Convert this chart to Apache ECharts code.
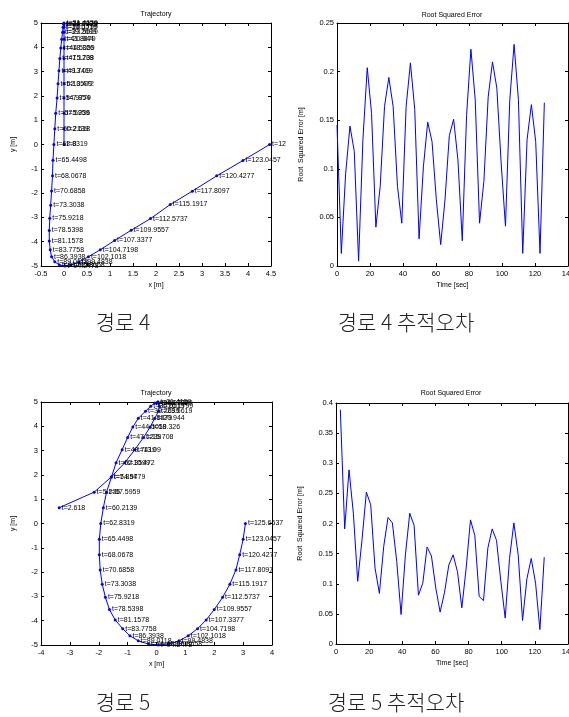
<!DOCTYPE html>
<html>
<head>
<meta charset="utf-8">
<script src="https://cdn.jsdelivr.net/npm/echarts@6/dist/echarts.min.js"></script>
<style>
  html, body { margin: 0; padding: 0; background: #fff; }
  #chart { width: 569px; height: 717px; }
</style>
</head>
<body>
<div id="chart"></div>
<script>
// sample times (every 2.618 s)
const tVals = [0, 2.618, 5.236, 7.854, 10.472, 13.09, 15.708, 18.326, 20.944, 23.5619,
  26.1799, 28.7979, 31.4159, 34.0339, 36.6519, 39.2699, 41.8879, 44.5059, 47.1239, 49.7419,
  52.3599, 54.9779, 57.5959, 60.2139, 62.8319, 65.4498, 68.0678, 70.6858, 73.3038, 75.9218,
  78.5398, 81.1578, 83.7758, 86.3938, 89.0118, 91.6298, 94.2478, 96.8658, 99.4838, 102.1018,
  104.7198, 107.3377, 109.9557, 112.5737, 115.1917, 117.8097, 120.4277, 123.0457, 125.6637];

// path 4 trajectory (t = 0 .. 125.66)
const path4X = [0, 0, 0, 0, 0, 0, 0, 0, 0, 0, 0, 0, 0,
  -0.01, -0.02, -0.03, -0.05, -0.07, -0.09, -0.11, -0.13, -0.15, -0.18, -0.20, -0.22,
  -0.24, -0.25, -0.27, -0.29, -0.31, -0.32, -0.32, -0.30, -0.27, -0.20, -0.10, 0.02,
  0.15, 0.32, 0.53, 0.79, 1.10, 1.46, 1.88, 2.31, 2.79, 3.32, 3.89, 4.47];
const path4Y = [0, 0.65, 1.29, 1.91, 2.5, 3.04, 3.54, 3.97, 4.33, 4.62, 4.83, 4.96, 5.0,
  4.96, 4.83, 4.62, 4.33, 3.97, 3.54, 3.04, 2.5, 1.91, 1.29, 0.65, 0,
  -0.65, -1.29, -1.91, -2.5, -3.04, -3.54, -3.97, -4.33, -4.62, -4.83, -4.96, -5.0,
  -4.96, -4.83, -4.62, -4.33, -3.95, -3.53, -3.05, -2.47, -1.92, -1.29, -0.66, 0];

// path 5 trajectory (t = 2.618 .. 125.66)
const path5X = [-3.37, -2.16, -1.57, -1.10, -0.75, -0.45, -0.22, -0.06, 0.07, 0.10, 0.08, 0.04,
  -0.06, -0.20, -0.38, -0.63, -0.82, -1.00, -1.19, -1.40, -1.56, -1.73, -1.84, -1.93,
  -1.98, -1.98, -1.95, -1.88, -1.77, -1.63, -1.43, -1.17, -0.92, -0.63, -0.28, 0.06,
  0.41, 0.78, 1.10, 1.42, 1.72, 2.00, 2.29, 2.54, 2.75, 2.88, 3.00, 3.08];
const path5Y = [0.65, 1.29, 1.91, 2.5, 3.04, 3.54, 3.97, 4.33, 4.62, 4.83, 4.96, 5.0,
  4.96, 4.83, 4.62, 4.33, 3.97, 3.54, 3.04, 2.5, 1.91, 1.29, 0.65, 0,
  -0.65, -1.29, -1.91, -2.5, -3.04, -3.54, -3.97, -4.33, -4.62, -4.83, -4.96, -5.0,
  -4.96, -4.83, -4.62, -4.33, -3.97, -3.54, -3.04, -2.5, -1.91, -1.29, -0.65, 0];

// root squared error [m]
const rse4 = [0.145, 0.013, 0.095, 0.144, 0.118, 0.005, 0.13, 0.204, 0.157, 0.04,
  0.082, 0.164, 0.194, 0.164, 0.082, 0.044, 0.164, 0.209, 0.161, 0.028,
  0.102, 0.148, 0.128, 0.068, 0.022, 0.068, 0.134, 0.151, 0.109, 0.026,
  0.155, 0.223, 0.171, 0.044, 0.087, 0.174, 0.210, 0.183, 0.106, 0.041,
  0.171, 0.228, 0.171, 0.013, 0.130, 0.166, 0.128, 0.013, 0.168];
const rse5 = [0.389, 0.191, 0.289, 0.217, 0.104, 0.173, 0.252, 0.231, 0.126, 0.084,
  0.162, 0.210, 0.201, 0.137, 0.049, 0.148, 0.217, 0.197, 0.081, 0.101,
  0.161, 0.146, 0.093, 0.053, 0.085, 0.131, 0.148, 0.120, 0.060, 0.126,
  0.206, 0.180, 0.079, 0.072, 0.159, 0.191, 0.172, 0.104, 0.043, 0.142,
  0.201, 0.148, 0.039, 0.108, 0.142, 0.101, 0.024, 0.144];

const captions = ['경로 4', '경로 4 추적오차', '경로 5', '경로 5 추적오차'];

const FONT = '"Liberation Sans", Arial, Helvetica, sans-serif';
const BLUE = '#0000ff';

const grids = [
  { left: 41, top: 23, width: 230, height: 243 },
  { left: 337, top: 23, width: 231, height: 243 },
  { left: 41, top: 402, width: 231, height: 243 },
  { left: 336, top: 403, width: 232, height: 241 }
];

function fmtT(t) {
  return 't=' + String(parseFloat(t.toFixed(4)));
}

const xAxes = [];
const yAxes = [];

function addAxes(g, xr, yr, xName, yName, yGap) {
  const base = {
    type: 'value', gridIndex: g, splitLine: { show: false },
    axisLine: { show: true, onZero: false, lineStyle: { color: '#000', width: 1 } },
    axisTick: { show: true, inside: true, length: 3, lineStyle: { color: '#000' } }
  };
  const lbl = { show: true, color: '#000', fontSize: 7.5, fontFamily: FONT };
  xAxes.push(Object.assign({}, base, {
    position: 'bottom', min: xr[0], max: xr[1], interval: xr[2],
    axisLabel: Object.assign({ margin: 4 }, lbl),
    name: xName, nameLocation: 'middle', nameGap: 16,
    nameTextStyle: { color: '#000', fontSize: 7, fontFamily: FONT }
  }));
  xAxes.push(Object.assign({}, base, {
    position: 'top', min: xr[0], max: xr[1], interval: xr[2], axisLabel: { show: false }
  }));
  yAxes.push(Object.assign({}, base, {
    position: 'left', min: yr[0], max: yr[1], interval: yr[2],
    axisLabel: Object.assign({ margin: 3 }, lbl),
    name: yName, nameLocation: 'middle', nameGap: yGap,
    nameTextStyle: { color: '#000', fontSize: 7, fontFamily: FONT }
  }));
  yAxes.push(Object.assign({}, base, {
    position: 'right', min: yr[0], max: yr[1], interval: yr[2], axisLabel: { show: false }
  }));
}

addAxes(0, [-0.5, 4.5, 0.5], [-5, 5, 1], 'x [m]', 'y [m]', 24);
addAxes(1, [0, 140, 20], [0, 0.25, 0.05], 'Time [sec]', 'Root  Squared Error [m]', 32);
addAxes(2, [-4, 4, 1], [-5, 5, 1], 'x [m]', 'y [m]', 24);
addAxes(3, [0, 140, 20], [0, 0.4, 0.05], 'Time [sec]', 'Root  Squared Error [m]', 32);

// clipLast: the last label runs off the figure edge in the original, keep only its start
function trajSeries(g, xs, ys, ts, clipLast) {
  const data = xs.map((x, i) => {
    const item = { value: [x, ys[i], ts[i]] };
    if (clipLast && i === xs.length - 1) {
      item.label = { width: 17, overflow: 'truncate', ellipsis: '' };
    }
    return item;
  });
  return {
    type: 'line', xAxisIndex: 2 * g, yAxisIndex: 2 * g, silent: true,
    data: data,
    symbol: 'circle', symbolSize: 3, showAllSymbol: true,
    lineStyle: { color: BLUE, width: 1 },
    itemStyle: { color: BLUE },
    label: {
      show: true, position: 'right', distance: 1,
      fontSize: 7, fontFamily: FONT, color: '#000',
      formatter: p => fmtT(p.value[2])
    },
    emphasis: { disabled: true }
  };
}

function rseSeries(g, ts, vals) {
  return {
    type: 'line', xAxisIndex: 2 * g, yAxisIndex: 2 * g, silent: true,
    data: vals.map((v, i) => [ts[i], v]),
    showSymbol: false,
    lineStyle: { color: BLUE, width: 1 },
    itemStyle: { color: BLUE },
    emphasis: { disabled: true }
  };
}

const titleStyle = { fontSize: 7, fontFamily: FONT, fill: '#000', align: 'center', verticalAlign: 'middle' };
const capStyle = { fontSize: 21, fontFamily: '"Noto Sans CJK KR", sans-serif', fontWeight: 300, fill: '#222', align: 'center', verticalAlign: 'middle' };

const chart = echarts.init(document.getElementById('chart'), null, { renderer: 'canvas' });
chart.setOption({
  backgroundColor: '#fff',
  animation: false,
  grid: grids.map(g => Object.assign({ containLabel: false, outerBoundsMode: 'none' }, g)),
  xAxis: xAxes,
  yAxis: yAxes,
  series: [
    trajSeries(0, path4X, path4Y, tVals, true),
    rseSeries(1, tVals, rse4),
    trajSeries(2, path5X, path5Y, tVals.slice(1), false),
    rseSeries(3, tVals.slice(1), rse5)
  ],
  graphic: [
    { type: 'text', z: 100, x: 156, y: 14, style: Object.assign({ text: 'Trajectory' }, titleStyle) },
    { type: 'text', z: 100, x: 452, y: 15, style: Object.assign({ text: 'Root Squared Error' }, titleStyle) },
    { type: 'text', z: 100, x: 156, y: 393, style: Object.assign({ text: 'Trajectory' }, titleStyle) },
    { type: 'text', z: 100, x: 451, y: 393, style: Object.assign({ text: 'Root Squared Error' }, titleStyle) },
    { type: 'text', z: 100, x: 123, y: 322, style: Object.assign({ text: captions[0] }, capStyle) },
    { type: 'text', z: 100, x: 406, y: 322, style: Object.assign({ text: captions[1] }, capStyle) },
    { type: 'text', z: 100, x: 123, y: 702, style: Object.assign({ text: captions[2] }, capStyle) },
    { type: 'text', z: 100, x: 396, y: 702, style: Object.assign({ text: captions[3] }, capStyle) }
  ]
});
</script>
</body>
</html>
